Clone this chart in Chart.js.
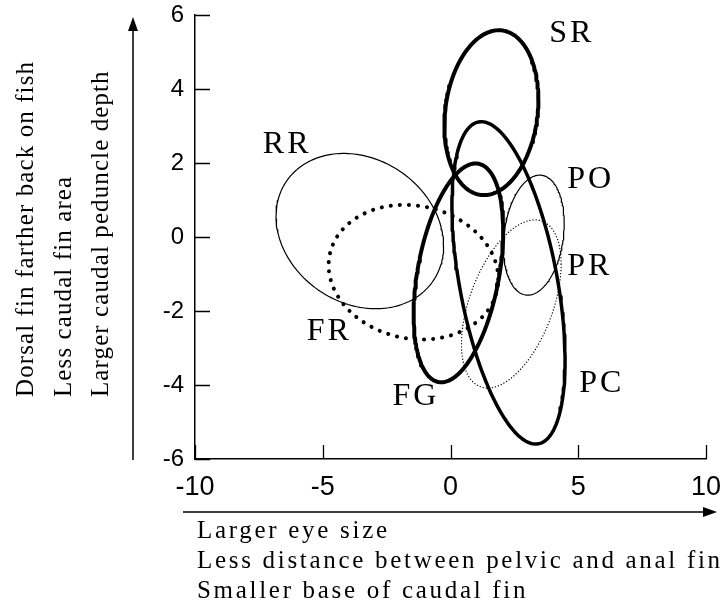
<!DOCTYPE html>
<html>
<head>
<meta charset="utf-8">
<script src="https://cdn.jsdelivr.net/npm/chart.js@4.4.1/dist/chart.umd.min.js"></script>
<style>
  html, body { margin: 0; padding: 0; background: #fff; }
  #wrap { width: 725px; height: 613px; }
</style>
</head>
<body>
<div id="wrap"><canvas id="ellipseChart" width="725" height="613"></canvas></div>
<script>
var groups = ['SR', 'PC', 'FG', 'RR', 'FR', 'PO', 'PR'];
var centerX = [1.60, 2.27, 0.31, -3.55, -1.45, 3.26, 2.38];
var centerY = [3.36, -1.24, -0.97, 0.16, -0.95, 0.05, -1.81];
// two conjugate half-axes of each ellipse, in axis units
var axisUX = [1.84, -1.17, 0.78, 3.28, 3.32, 1.19, 1.95];
var axisUY = [0.35, 4.35, 2.95, -0.40, -0.19, 0.32, 1.08];
var axisVX = [0, 1.88, 1.57, 0, 0, 0, 0];
var axisVY = [2.20, 0.24, -0.20, 2.06, 1.81, 1.59, 2.00];
// where each group name sits, in axis units
var labelX = [4.69, 5.86, -1.41, -6.45, -4.8, 5.43, 5.39];
var labelY = [5.49, -3.97, -4.3, 2.49, -2.57, 1.54, -0.81];

var xTicks = [-10, -5, 0, 5, 10];
var yTicks = [-6, -4, -2, 0, 2, 4, 6];
var xTitle = ['Larger eye size', 'Less distance between pelvic and anal fin', 'Smaller base of caudal fin'];
var yTitle = ['Dorsal fin farther back on fish', 'Less caudal fin area', 'Larger caudal peduncle depth'];

var lineStyle = {
    SR: { width: 4, dash: [] },
    PC: { width: 3.5, dash: [] },
    FG: { width: 4, dash: [] },
    RR: { width: 1.2, dash: [] },
    FR: { width: 4, dash: [0.1, 9] },
    PO: { width: 1.2, dash: [] },
    PR: { width: 1.3, dash: [0.1, 3] }
};

function outline(i) {
    var pts = [];
    var n = 180;
    for (var k = 0; k <= n; k++) {
        var t = 2 * Math.PI * k / n;
        pts.push({
            x: centerX[i] + axisUX[i] * Math.cos(t) + axisVX[i] * Math.sin(t),
            y: centerY[i] + axisUY[i] * Math.cos(t) + axisVY[i] * Math.sin(t)
        });
    }
    return pts;
}

var datasets = groups.map(function (g, i) {
    return {
        label: g,
        data: outline(i),
        showLine: true,
        fill: false,
        borderColor: '#000',
        borderWidth: lineStyle[g].width,
        borderDash: lineStyle[g].dash,
        borderCapStyle: 'round',
        borderJoinStyle: 'round',
        pointRadius: 0,
        tension: 0
    };
});

var decorations = {
    id: 'decorations',
    afterDraw: function (chart) {
        var ctx = chart.ctx;
        var xs = chart.scales.x, ys = chart.scales.y;
        var area = chart.chartArea;
        ctx.save();
        // inward tick marks
        ctx.strokeStyle = '#000';
        ctx.lineWidth = 1.3;
        ctx.beginPath();
        yTicks.forEach(function (v) {
            var py = Math.round(ys.getPixelForValue(v)) + 0.5;
            ctx.moveTo(area.left, py);
            ctx.lineTo(area.left + 15, py);
        });
        xTicks.forEach(function (v) {
            var px = Math.round(xs.getPixelForValue(v)) + 0.5;
            ctx.moveTo(px, area.bottom);
            ctx.lineTo(px, area.bottom - 14);
        });
        ctx.stroke();

        // group names
        ctx.fillStyle = '#000';
        ctx.font = '32px "Liberation Serif"';
        ctx.textAlign = 'center';
        ctx.textBaseline = 'middle';
        ctx.letterSpacing = '3px';
        groups.forEach(function (g, i) {
            ctx.fillText(g, xs.getPixelForValue(labelX[i]) + 1.5, ys.getPixelForValue(labelY[i]));
        });

        // arrows
        ctx.lineWidth = 1.5;
        ctx.beginPath();
        ctx.moveTo(133, 460);
        ctx.lineTo(133, 28);
        ctx.moveTo(183, 512);
        ctx.lineTo(706, 512);
        ctx.stroke();
        ctx.beginPath();
        ctx.moveTo(133, 17);
        ctx.lineTo(128, 31);
        ctx.lineTo(138, 31);
        ctx.closePath();
        ctx.moveTo(717, 512);
        ctx.lineTo(703, 507);
        ctx.lineTo(703, 517);
        ctx.closePath();
        ctx.fill();

        // axis titles
        ctx.font = '25px "Liberation Serif"';
        ctx.textAlign = 'left';
        ctx.textBaseline = 'alphabetic';
        ctx.letterSpacing = '2.7px';
        xTitle.forEach(function (s, i) {
            ctx.fillText(s, 197, 538 + i * 30);
        });
        ctx.letterSpacing = '1.1px';
        yTitle.forEach(function (s, i) {
            ctx.save();
            ctx.translate(33 + i * 37.5, 397);
            ctx.rotate(-Math.PI / 2);
            ctx.fillText(s, 0, 0);
            ctx.restore();
        });
        ctx.restore();
    }
};

var ctx = document.getElementById('ellipseChart').getContext('2d');
var ellipseChart = new Chart(ctx, {
    type: 'scatter',
    data: { datasets: datasets },
    options: {
        responsive: false,
        animation: false,
        events: [],
        layout: { padding: { left: 0, right: 19, top: 15, bottom: 0 } },
        plugins: {
            legend: { display: false },
            tooltip: { enabled: false }
        },
        scales: {
            x: {
                type: 'linear',
                min: -10,
                max: 10,
                afterBuildTicks: function (scale) {
                    scale.ticks = xTicks.map(function (v) { return { value: v }; });
                },
                afterFit: function (scale) {
                    scale.height = 154;
                    scale.paddingLeft = 0;
                    scale.paddingRight = 0;
                },
                grid: { display: true, drawOnChartArea: false, drawTicks: false },
                border: { display: true, color: '#000', width: 1.5 },
                ticks: {
                    color: '#000',
                    padding: 12,
                    maxRotation: 0,
                    autoSkip: false,
                    font: { family: '"Liberation Sans", Arial', size: 27 }
                }
            },
            y: {
                type: 'linear',
                min: -6,
                max: 6,
                afterBuildTicks: function (scale) {
                    scale.ticks = yTicks.map(function (v) { return { value: v }; });
                },
                afterFit: function (scale) {
                    scale.width = 195;
                    scale.paddingTop = 0;
                    scale.paddingBottom = 0;
                },
                grid: { display: true, drawOnChartArea: false, drawTicks: false },
                border: { display: true, color: '#000', width: 1.5 },
                ticks: {
                    color: '#000',
                    padding: 11,
                    autoSkip: false,
                    font: { family: '"Liberation Sans", Arial', size: 24 }
                }
            }
        }
    },
    plugins: [decorations]
});
</script>
</body>
</html>
